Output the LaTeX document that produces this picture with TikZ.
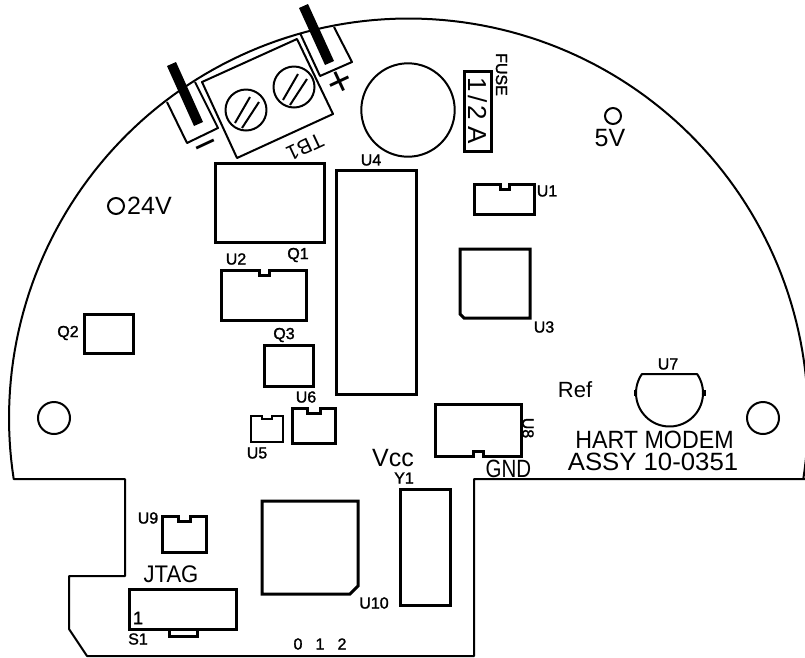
\documentclass[tikz,border=0pt]{standalone}
\usepackage{fontspec}
\setmainfont{Liberation Sans}
\newfontfamily\tagfont[FakeBold=1.5]{Liberation Sans}
\newcommand{\tagsize}[1]{\fontsize{#1}{#1}\selectfont}
\tikzset{
    board/.style={line width=2pt, line join=round},
    part/.style={line width=3pt, line join=miter},
    thinpart/.style={line width=2pt},
    smalltag/.style={inner sep=0pt, font=\tagfont\tagsize{16}},
    bigtag/.style={inner sep=0pt, font=\tagsize{25}}
}
\begin{document}
\begin{tikzpicture}[x=1pt,y=-1pt]
    \useasboundingbox (0,0) rectangle (805,657);

    % Board outline with the big round edge
    \draw[board] (805,479) -- (474,479) -- (474,656) -- (87,656) -- (69,629) -- (69,576)
        -- (125,576) -- (125,479) -- (13.7,479)
        -- plot[domain=188.8:-8.8,samples=140] ({408.5+399.5*cos(\x)},{418-399.5*sin(\x)});

    % Mounting holes and test points
    \foreach \cx/\cy/\rad in {54/418/16, 763/418/16, 116/206/8, 613/116/8} {
        \draw[thinpart] (\cx,\cy) circle (\rad pt);
    }

    % Terminal block with its two screws
    \draw[board] (202,82) -- (237,158) -- (333,114) -- (297,39) -- cycle;
    \foreach \cx/\cy in {246/110, 294/87} {
        \begin{scope}[shift={(\cx,\cy)}]
            \draw[board] (0,0) circle (20.5pt);
            \draw[board] (-11,13) -- (4,-13);
            \draw[board] (-4,18) -- (13,-8);
        \end{scope}
    }
    % Tabs on both sides of the block
    \draw[board] (167,102) -- (187,143) -- (218,128) -- (195,82);
    \draw[board] (300,33) -- (320,76) -- (352,62) -- (334,27);
    \fill[black] (167,66) -- (176,62) -- (203,122) -- (194,126) -- cycle;
    \fill[black] (299,8) -- (308,4) -- (334,61) -- (325,65) -- cycle;

    % Fuse holder
    \draw[board] (408,110) circle (46.7pt);
    \draw[part] (464,71) rectangle (491,151);

    % Plain rectangular parts
    \foreach \xa/\ya/\xb/\yb in {215/163/324/242, 336/170/416/394, 264/345/313/386,
        84/314/133/353, 400/489/450/605} {
        \draw[part] (\xa,\ya) rectangle (\xb,\yb);
    }

    % Parts with a notch in the top edge
    \foreach \xa/\ya/\xb/\yb/\na/\nb/\nd in {474/184/534/214/500/509/189,
        221/270/306/320/259/269/275, 292/408/335/443/307/320/413,
        162/516/206/552/178/190/521} {
        \draw[part] (\xa,\ya) -- (\na,\ya) -- (\na,\nd) -- (\nb,\nd) -- (\nb,\ya) -- (\xb,\ya)
            -- (\xb,\yb) -- (\xa,\yb) -- cycle;
    }
    \draw[thinpart] (251,416) -- (262,416) -- (262,419) -- (272,419) -- (272,416) -- (283,416)
        -- (283,442) -- (251,442) -- cycle;

    % Parts with a notch in the bottom edge
    \draw[part] (435,404) -- (521,404) -- (521,456) -- (483,456) -- (483,451) -- (473,451)
        -- (473,456) -- (435,456) -- cycle;
    \draw[part] (129,589) -- (236,589) -- (236,629) -- (129,629) -- cycle;
    \draw[part] (169,629) -- (169,636) -- (197,636) -- (197,629);

    % Parts with a cut corner
    \draw[part] (460,249) -- (530,249) -- (530,318) -- (464,318) -- (460,314) -- cycle;
    \draw[part] (262,501) -- (358,501) -- (358,586) -- (350,594) -- (262,594) -- cycle;

    % Round part with a flat side
    \draw[board] (642,374) -- (697,374)
        -- plot[domain=34.6:-214.6,samples=60] ({669.5+33.5*cos(\x)},{393-33.5*sin(\x)}) -- cycle;
    \draw[board] (634.5,390) -- (634.5,396);
    \draw[board] (704.5,390) -- (704.5,396);

    % Part names
    \foreach \name/\x/\y in {U1/547/191, U2/236/259, U3/544/327, U4/371/160, U5/257/453,
        U6/306/397, U7/668/364, U9/148/518, U10/374/603, Q1/298/255, Q2/68/333, Q3/284/335,
        Y1/404/478, S1/138/639} {
        \node[smalltag] (\name) at (\x,\y) {\name};
    }
    \node[smalltag,rotate=-90] (U8) at (528,428) {U8};
    \node[smalltag,rotate=-90] (FUSE) at (501.5,74.5) {FUSE};
    \foreach \digit/\x in {0/298, 1/320, 2/342} {
        \node[smalltag] (pin\digit) at (\x,644) {\digit};
    }
    \node[smalltag,font=\tagfont\tagsize{18}] (pinone) at (138,618) {1};

    % Bigger writing
    \node[bigtag,rotate=205,font=\tagsize{21}] (TB1) at (305,147) {TB1};
    \node[bigtag,rotate=25,font=\tagsize{42}] (plus) at (340,83) {+};
    \node[bigtag,rotate=25,font=\tagsize{40}] (minus) at (208,150) {−};
    \node[bigtag,rotate=-90,font=\tagsize{26}] (fuseval) at (477.5,111) {1\hspace{3pt}/\hspace{3pt}2 A};
    \node[bigtag,anchor=west] (vin) at (127,206) {24V};
    \node[bigtag] (vfive) at (610,138) {5V};
    \node[bigtag,font=\tagsize{22}] (ref) at (575,390) {Ref};
    \node[bigtag] (vcc) at (393,458) {Vcc};
    \node[bigtag,xscale=.82] (gnd) at (508.5,469) {GND};
    \node[bigtag,xscale=.93] (title) at (654.5,439.5) {HART MODEM};
    \node[bigtag,xscale=1.03] (assy) at (653,462) {ASSY 10-0351};
    \node[bigtag,xscale=.92,font=\tagsize{24}] (jtag) at (171,574.5) {JTAG};
\end{tikzpicture}
\end{document}
